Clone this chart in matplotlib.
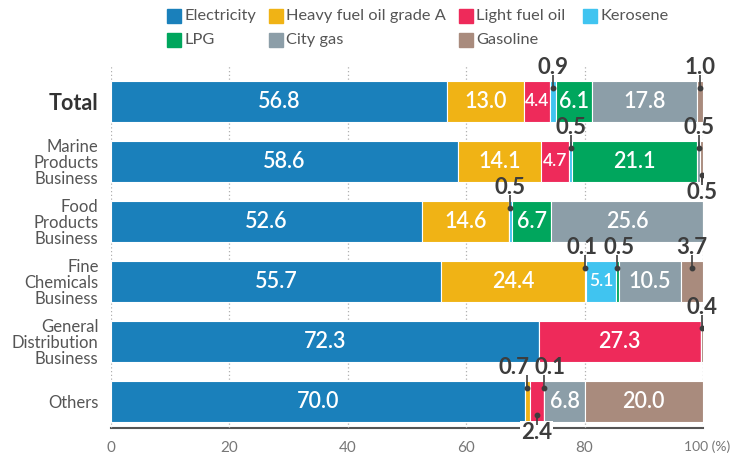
import numpy as np
import matplotlib.pyplot as plt
from matplotlib.patches import Rectangle

plt.rcParams['font.family'] = ['Lato', 'DejaVu Sans']

categories = ['Total', 'Marine\nProducts\nBusiness', 'Food\nProducts\nBusiness',
              'Fine\nChemicals\nBusiness', 'General\nDistribution\nBusiness', 'Others']
fuels = ['Electricity', 'Heavy fuel oil grade A', 'Light fuel oil', 'Kerosene',
         'LPG', 'City gas', 'Gasoline']
colors = ['#1a80bb', '#f0b315', '#ee2a5a', '#40c4f0', '#00a65d', '#8c9ea8', '#a98b7d']

electricity = [56.8, 58.6, 52.6, 55.7, 72.3, 70.0]
heavy_oil = [13.0, 14.1, 14.6, 24.4, 0, 0.7]
light_oil = [4.4, 4.7, 0, 0.1, 27.3, 2.4]
kerosene = [0.9, 0.5, 0.5, 5.1, 0, 0.1]
lpg = [6.1, 21.1, 6.7, 0.5, 0, 0]
city_gas = [17.8, 0.5, 25.6, 10.5, 0, 6.8]
gasoline = [1.0, 0.5, 0, 3.7, 0.4, 20.0]

# small shares labelled outside the bar: (row, fuel index, side, label x shift)
callouts = [(0, 3, 'up', 0), (0, 6, 'up', 0), (1, 3, 'up', 0), (1, 5, 'up', 0),
            (1, 6, 'down', 0), (2, 3, 'up', 0), (3, 2, 'up', -0.6), (3, 4, 'up', 0.3),
            (3, 6, 'up', 0), (4, 6, 'up', 0), (5, 1, 'up', -2.3), (5, 2, 'down', 0),
            (5, 3, 'up', 1.0)]

data = np.array([electricity, heavy_oil, light_oil, kerosene, lpg, city_gas, gasoline])

W, H = 731, 457
fig = plt.figure(figsize=(W / 100, H / 100), dpi=100)
ax = fig.add_axes([111 / W, 29 / H, 592 / W, 363 / H])

y = np.arange(len(categories))
bh = 0.68
lefts = np.zeros(len(categories))
for i, fuel in enumerate(fuels):
    ax.barh(y, data[i], left=lefts, height=bh, color=colors[i],
            edgecolor='white', linewidth=0.8, zorder=2)
    lefts += data[i]

starts = np.vstack([np.zeros(len(categories)), np.cumsum(data, axis=0)[:-1]])
outside = {(r, f): (s, dx) for r, f, s, dx in callouts}
last = len(categories) - 1

for f in range(len(fuels)):
    for r in range(len(categories)):
        v = data[f, r]
        if v == 0:
            continue
        xc = starts[f, r] + v / 2
        if (r, f) in outside:
            side, dx = outside[(r, f)]
            if side == 'up':
                ty = y[r] - bh / 2 - 0.22
                l0, l1 = ty + 0.12, y[r] - bh / 2 + 0.12
            else:
                ty = y[r] + bh / 2 + 0.18
                l0, l1 = ty - 0.12, y[r] + bh / 2 - 0.12
            # white box only where the label sits on the axis line
            box = None
            if side == 'down' and r == last:
                box = dict(boxstyle='square,pad=0.05', fc='white', ec='none')
            ax.text(xc + dx, ty, f'{v:.1f}', ha='center', va='center', fontsize=16,
                    fontweight='bold', color='#3d3d3d', zorder=3, clip_on=False,
                    bbox=box)
            ax.plot([xc, xc], [l0, l1], color='#3d3d3d', lw=1.2, zorder=3,
                    solid_capstyle='butt', clip_on=False)
            ax.plot(xc, l1, 'o', ms=3.2, color='#3d3d3d', zorder=3)
        elif v >= 4:
            fs = 12.5 if v < 5.5 else 15.5
            ax.text(xc, y[r], f'{v:.1f}', ha='center', va='center', fontsize=fs,
                    fontweight='semibold', color='white', zorder=4)

ax.set_xlim(0, 100)
ax.set_ylim(5.442, -0.608)
ax.set_xticks([0, 20, 40, 60, 80, 100])
ax.set_xticklabels(['0', '20', '40', '60', '80', ''])
ax.tick_params(axis='x', length=0, labelsize=11, labelcolor='#777777', pad=9)
# last tick carries the unit, shifted left so it stays inside the figure
ax.annotate('100 (%)', xy=(100, 0), xycoords=ax.get_xaxis_transform(),
            xytext=(-14, -9), textcoords='offset points', ha='left', va='top',
            fontsize=10, color='#777777', annotation_clip=False)

ax.set_yticks(y)
ax.set_yticklabels(categories, fontsize=12, color='#555555', linespacing=0.98)
ax.tick_params(axis='y', length=0, pad=9)
tl = ax.get_yticklabels()[0]
tl.set_fontsize(15.5)
tl.set_fontweight('bold')
tl.set_color('#333333')
for t in ax.get_yticklabels():
    t.set_horizontalalignment('right')
    t.set_multialignment('right')

ax.grid(axis='x', linestyle=(0, (1, 2)), color='#b0b0b0', lw=0.9, zorder=0.5)
ax.grid(axis='y', visible=False)
for s in ['top', 'right', 'left']:
    ax.spines[s].set_visible(False)
ax.spines['bottom'].set_linestyle((0, (1, 1)))
ax.spines['bottom'].set_color('#555555')
ax.spines['bottom'].set_linewidth(1.5)
ax.spines['bottom'].set_zorder(1)

# legend laid out in a 4-column grid
leg_x = [167, 269, 459, 583]
leg_y = [16, 40]
for i, fuel in enumerate(fuels):
    col, row = i % 4, i // 4
    if i == 6:
        col = 2
    px, py = leg_x[col], leg_y[row]
    fig.add_artist(Rectangle((px / W, 1 - (py + 7) / H), 14 / W, 14 / H,
                             transform=fig.transFigure, color=colors[i]))
    fig.text((px + 17) / W, 1 - py / H, fuel, ha='left', va='center',
             fontsize=11.8, color='#555555')

fig.savefig('out.png', dpi=100)
